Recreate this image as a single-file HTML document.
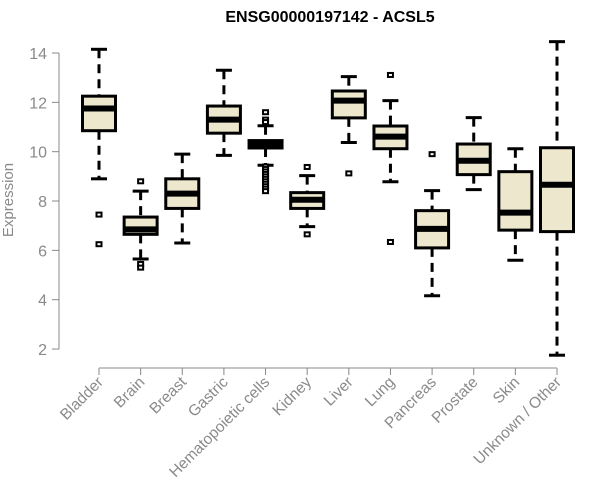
<!DOCTYPE html>
<html><head><meta charset="utf-8"><style>
body{margin:0;background:#fff}
svg{display:block;font-family:"Liberation Sans",Arial,sans-serif}
</style></head><body>
<svg id="chart" width="600" height="500">
<text x="330" y="22" text-anchor="middle" font-weight="bold" font-size="16" fill="#000">ENSG00000197142 - ACSL5</text>
<text transform="translate(13,200) rotate(-90)" text-anchor="middle" font-size="15" fill="#8a8a8a">Expression</text>
<g id="yaxis"></g>
<g id="xaxis"></g>
<g id="boxes"></g>
</svg>
<script>
const categories=["Bladder","Brain","Breast","Gastric","Hematopoietic cells","Kidney","Liver","Lung","Pancreas","Prostate","Skin","Unknown / Other"];
const lowWhisker=[8.9,5.65,6.3,9.85,9.45,6.96,10.37,8.78,4.16,8.46,5.6,1.75];
const q1=[10.85,6.65,7.7,10.75,10.15,7.7,11.37,10.12,6.1,9.07,6.82,6.76];
const medians=[11.75,6.85,8.3,11.3,10.3,8.05,12.07,10.61,6.87,9.63,7.53,8.66];
const q3=[12.25,7.35,8.9,11.85,10.45,8.34,12.46,11.04,7.61,10.31,9.19,10.16];
const highWhisker=[14.15,8.4,9.9,13.3,11.05,9.03,13.04,12.07,8.42,11.38,10.12,14.46];
const outliers=[[7.45,6.25],[8.8,5.45,5.3],[],[],[11.6,11.3,11.2,9.4,9.3,9.2,9.1,9.0,8.9,8.8,8.7,8.6,8.5,8.4],[9.38,6.65],[9.12],[13.11,6.34],[9.9],[],[],[]];
const yTicks=[2,4,6,8,10,12,14];
const NS="http://www.w3.org/2000/svg";
function y(v){return 53+(14-v)*24.67;}
function x(i){return 99+i*(557-99)/11;}
function mk(tag,attrs,parent){const e=document.createElementNS(NS,tag);for(const k in attrs)e.setAttribute(k,attrs[k]);parent.appendChild(e);return e;}
const ya=document.getElementById('yaxis'),xa=document.getElementById('xaxis'),bx=document.getElementById('boxes');
mk('line',{x1:59,x2:59,y1:y(14),y2:y(2),stroke:'#888','stroke-width':1},ya);
yTicks.forEach(t=>{
 mk('line',{x1:52,x2:59,y1:y(t),y2:y(t),stroke:'#888'},ya);
 const tx=mk('text',{x:47,y:y(t)+6,'text-anchor':'end','font-size':16,fill:'#8a8a8a'},ya);
 tx.textContent=t;
 
 
});
mk('line',{x1:x(0),x2:x(11),y1:368,y2:368,stroke:'#888'},xa);
categories.forEach((c,i)=>{
 mk('line',{x1:x(i),x2:x(i),y1:368,y2:375,stroke:'#888'},xa);
 const t=mk('text',{transform:`translate(${x(i)+5},${383}) rotate(-45)`,'text-anchor':'end','font-size':15.5,fill:'#8a8a8a'},xa);
 t.textContent=c;
 
 
 const g=mk('g',{},bx);
 
 
 const cx=x(i),hw=16.5;
 mk('line',{x1:cx,x2:cx,y1:y(highWhisker[i]),y2:y(q3[i]),stroke:'#000','stroke-width':3,'stroke-dasharray':'9,6'},g);
 mk('line',{x1:cx,x2:cx,y1:y(q1[i]),y2:y(lowWhisker[i]),stroke:'#000','stroke-width':3,'stroke-dasharray':'9,6'},g);
 mk('line',{x1:cx-8,x2:cx+8,y1:y(highWhisker[i]),y2:y(highWhisker[i]),stroke:'#000','stroke-width':3},g);
 mk('line',{x1:cx-8,x2:cx+8,y1:y(lowWhisker[i]),y2:y(lowWhisker[i]),stroke:'#000','stroke-width':3},g);
 mk('rect',{x:cx-hw,y:y(q3[i]),width:hw*2,height:y(q1[i])-y(q3[i]),fill:'#ede7ce',stroke:'#000','stroke-width':3},g);
 mk('line',{x1:cx-hw,x2:cx+hw,y1:y(medians[i]),y2:y(medians[i]),stroke:'#000','stroke-width':6},g);
 outliers[i].forEach(o=>{
  mk('rect',{x:cx-2.5,y:y(o)-2,width:5,height:4,fill:'#fff',stroke:'#000','stroke-width':2},g);
 });
});
</script>
</body></html>
